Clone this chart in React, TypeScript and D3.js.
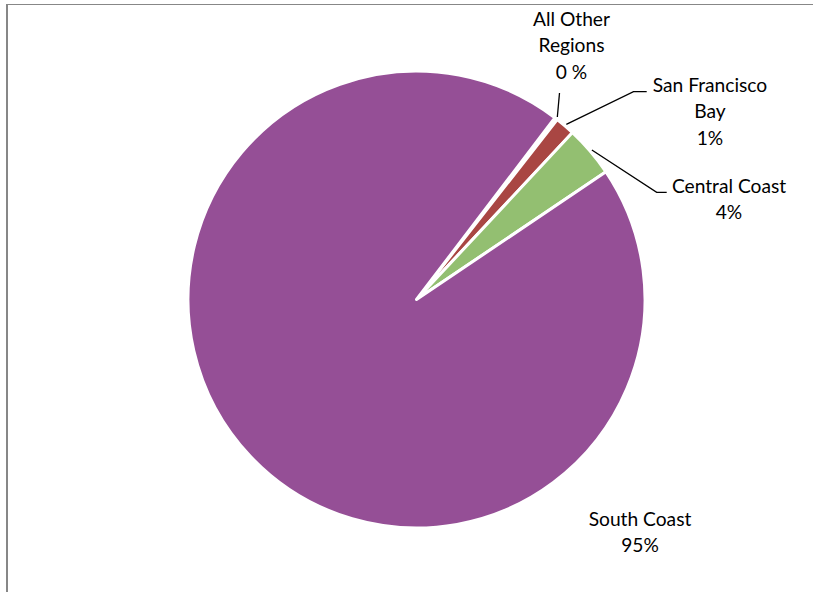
import React from "react";
import * as d3 from "d3";

const categories = ["All Other Regions", "San Francisco Bay", "Central Coast", "South Coast"];
const values = [0.2, 1.4, 3.6, 94.8];
const labelLines = [["All Other", "Regions", "0 %"], ["San Francisco", "Bay", "1%"], ["Central Coast", "4%"], ["South Coast", "95%"]];
const colors = ["#4F81BD", "#A94643", "#93BF71", "#954F96"];

const W = 813;
const H = 592;
const cx = 416.5;
const cy = 299.5;
const R = 228.5;
const startDeg = 37.3;

// label anchor: [x center, first baseline]
const labelPos: [number, number][] = [[571.5, 26], [710, 92], [729, 193], [640, 526]];
const lineH = 26.3;

export default function App() {
  const pie = d3
    .pie<number>()
    .sort(null)
    .value((d) => d)
    .startAngle((startDeg * Math.PI) / 180)
    .endAngle((startDeg * Math.PI) / 180 + 2 * Math.PI);
  const arcs = pie(values);
  const arc = d3.arc<d3.PieArcDatum<number>>().innerRadius(0).outerRadius(R);

  const onCircle = (a: number, r: number): [number, number] => [cx + r * Math.sin(a), cy - r * Math.cos(a)];
  const mid = (i: number) => (arcs[i].startAngle + arcs[i].endAngle) / 2;

  const p0 = onCircle(mid(0), R + 2);
  const p1 = onCircle(mid(1), R + 2);
  const p2 = onCircle(mid(2), R + 2);
  const leaders: [number, number][][] = [
    [p0, [559.5, 93]],
    [p1, [633.5, 91.7], [646.7, 91.7]],
    [p2, [656.7, 192.3], [666.7, 192.3]],
  ];

  return (
    <svg width={W} height={H} style={{ position: "absolute", left: 0, top: 0 }}>
      <rect x={0} y={0} width={W} height={H} fill="#fff" />
      <line x1={7} y1={4} x2={7} y2={H} stroke="#878787" strokeWidth={2} />
      <line x1={6} y1={4.5} x2={W} y2={4.5} stroke="#878787" strokeWidth={1} />
      <g transform={`translate(${cx},${cy})`}>
        {arcs.map((a, i) => (
          <path key={categories[i]} d={arc(a) || ""} fill={colors[i]} stroke="#fff" strokeWidth={3} strokeLinejoin="round" />
        ))}
      </g>
      {leaders.map((pts, i) => (
        <polyline key={i} points={pts.map((p) => p.join(",")).join(" ")} fill="none" stroke="#000" strokeWidth={1.3} />
      ))}
      {labelLines.map((lines, i) => (
        <text key={categories[i]} textAnchor="middle" fontFamily="Lato, 'Open Sans', sans-serif" fontSize={19.2} fill="#000">
          {lines.map((t, j) => (
            <tspan key={j} x={labelPos[i][0]} y={labelPos[i][1] + j * lineH}>
              {t}
            </tspan>
          ))}
        </text>
      ))}
    </svg>
  );
}
